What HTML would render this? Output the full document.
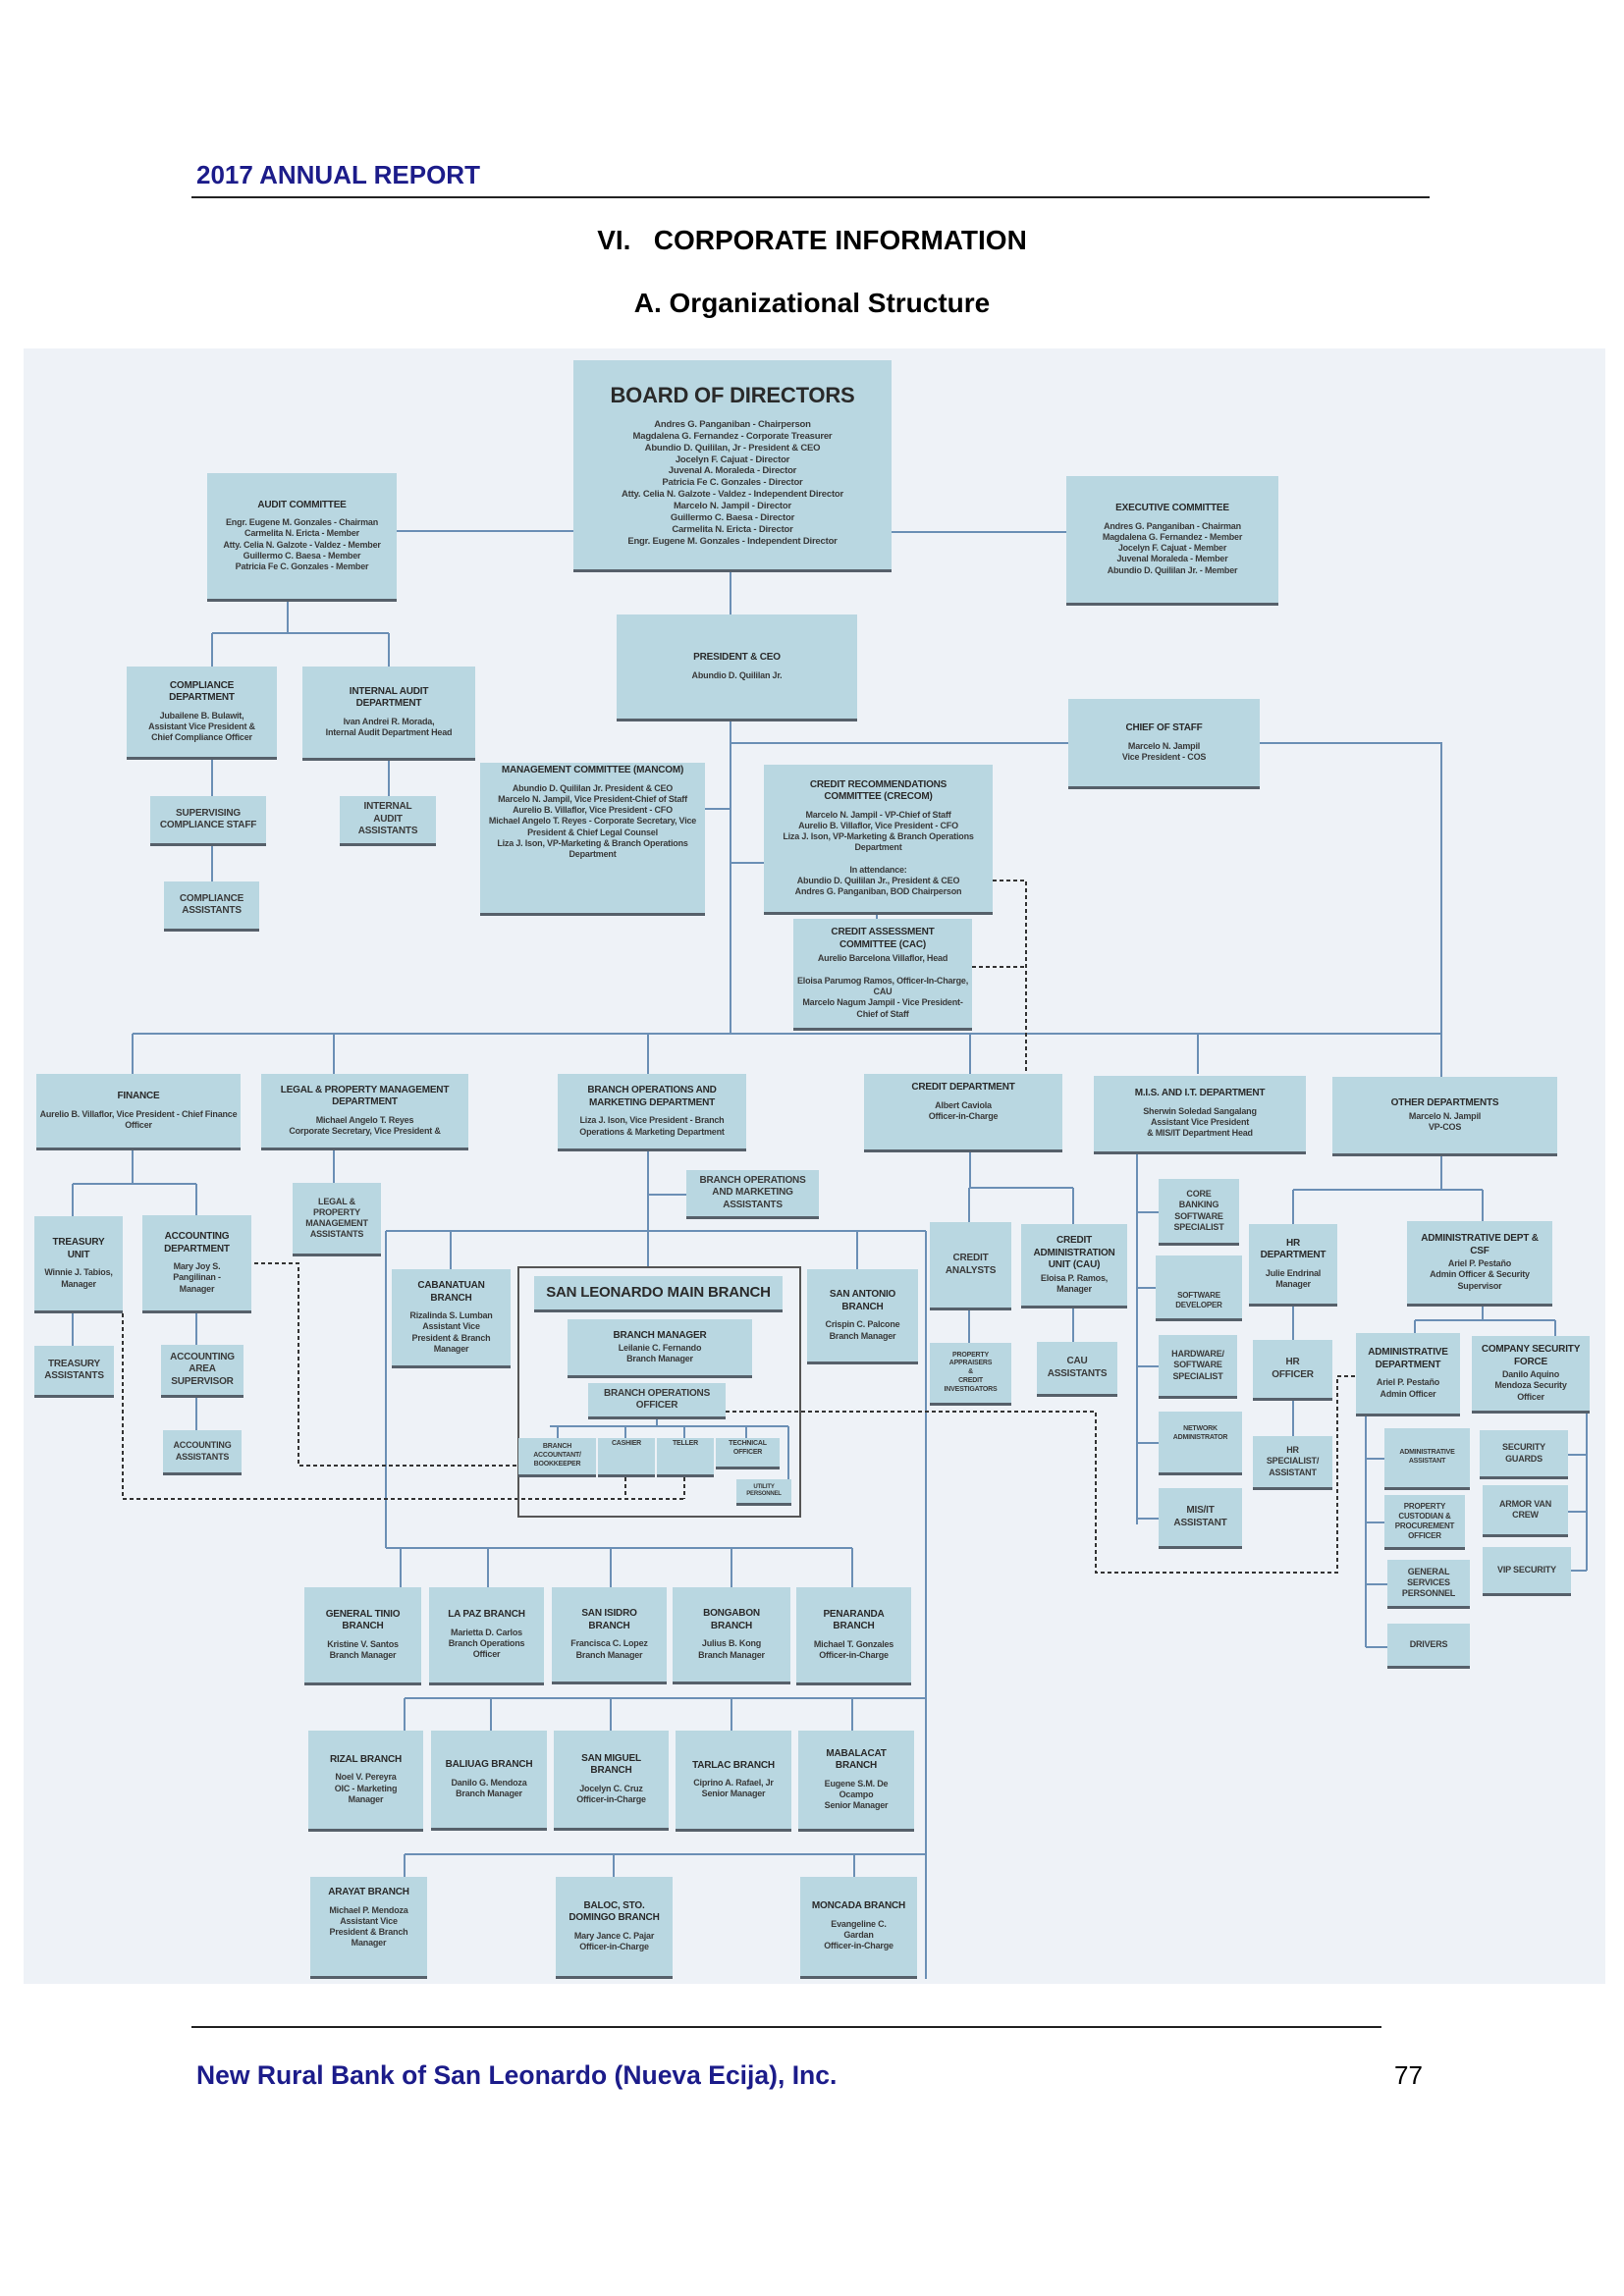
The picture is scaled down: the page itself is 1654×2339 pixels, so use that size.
<!DOCTYPE html>
<html><head><meta charset="utf-8"><style>
body{margin:0;background:#fff;}
#pg{position:relative;width:1654px;height:2339px;overflow:hidden;background:#fff;font-family:"Liberation Sans",sans-serif;}
.hd{position:absolute;font-weight:bold;font-size:24px;}
#dg{position:absolute;left:24px;top:355px;width:1611px;height:1666px;background:#eef2f7;}
svg{position:absolute;left:0;top:0;}
.b{position:absolute;background:#b9d7e1;border-bottom:3px solid #56606a;display:flex;flex-direction:column;justify-content:center;align-items:center;text-align:center;font-family:"Liberation Sans Narrow","Liberation Sans",sans-serif;font-weight:bold;font-size:9px;color:#3a3a3a;line-height:1.25;box-sizing:border-box;padding:2px 3px;letter-spacing:-0.2px;}
.b .t{font-size:10px;color:#2a2a2a;margin-bottom:6px;}
.b .n{font-weight:normal;}
</style></head><body><div id="pg">
<div class="hd" style="left:200px;top:163px;color:#1c1c8a;font-size:26px;">2017 ANNUAL REPORT</div>
<div style="position:absolute;left:195px;top:200px;width:1261px;height:2px;background:#222;"></div>
<div class="hd" style="left:0;width:1654px;text-align:center;top:229px;font-size:28px;">VI.&nbsp;&nbsp;&nbsp;CORPORATE INFORMATION</div>
<div class="hd" style="left:0;width:1654px;text-align:center;top:293px;font-size:28px;">A. Organizational Structure</div>
<div id="dg"></div>
<svg width="1654" height="2339">
<g stroke="#6b8fb5" stroke-width="2" fill="none">
<path d="M404 541H584M908 542H1086M744 583V626M293 613V645M216 645H396M216 645V679M396 645V679M216 774V811M216 862V898M396 775V811"/>
<path d="M744 735V1053M744 757H1088M1283 757H1468V1097M718 824H744M744 879H778M893 932V936"/>
<path d="M135 1053H1468M135 1053V1094M340 1053V1094M660 1053V1094M988 1053V1094M1220 1053V1094"/>
<path d="M135 1172V1206M74 1206H200M74 1206V1239M200 1206V1238M74 1338V1371M200 1338V1370M200 1424V1457M340 1172V1205"/>
<path d="M660 1172V1291M660 1217H699M393 1254H943M459 1254V1293M873 1254V1293M393 1254V1577M943 1254V2016"/>
<path d="M669 1446V1453M560 1453H803M568 1453V1465M637 1453V1465M697 1453V1465M760 1453V1465M803 1453V1507"/>
<path d="M393 1577H868M408 1577V1617M497 1577V1617M622 1577V1617M745 1577V1617M868 1577V1617"/>
<path d="M412 1730H943M412 1730V1763M500 1730V1763M622 1730V1763M745 1730V1763M868 1730V1763"/>
<path d="M412 1889H943M412 1889V1912M625 1889V1912M870 1889V1912"/>
<path d="M988 1172V1210M987 1210H1093M987 1210V1245M1093 1210V1247M987 1335V1368M1093 1333V1367"/>
<path d="M1158 1172V1553M1158 1235H1180M1158 1312H1177M1158 1392H1180M1158 1470H1180M1158 1547H1180"/>
<path d="M1468 1178V1212M1317 1212H1510M1317 1212V1247M1510 1212V1244M1317 1331V1365M1317 1427V1463"/>
<path d="M1510 1331V1345M1441 1345H1584M1441 1345V1358M1584 1345V1361M1391 1443V1678M1391 1486H1410M1391 1551H1410M1391 1614H1413M1391 1678H1413M1616 1440V1600M1597 1482H1616M1597 1540H1616M1600 1600H1616"/>
</g>
<g stroke="#333" stroke-width="2" fill="none" stroke-dasharray="4 3">
<path d="M1011 897H1045V1094M990 985H1045"/>
<path d="M259 1287H304V1493H528"/>
<path d="M125 1338V1527H697M637 1505V1527M697 1505V1527"/>
<path d="M739 1438H1116V1602H1362V1402H1381"/>
</g>
<rect x="528" y="1291" width="287" height="254" fill="none" stroke="#555" stroke-width="2"/>
</svg>

<div class="b" style="left:584px;top:367px;width:324px;height:216px;font-size:9.5px;"><div class="t" style="font-size:22px;margin-bottom:10px;">BOARD OF DIRECTORS</div>Andres G. Panganiban - Chairperson<br>Magdalena G. Fernandez - Corporate Treasurer<br>Abundio D. Quililan, Jr - President &amp; CEO<br>Jocelyn F. Cajuat - Director<br>Juvenal A. Moraleda - Director<br>Patricia Fe C. Gonzales - Director<br>Atty. Celia N. Galzote - Valdez - Independent Director<br>Marcelo N. Jampil - Director<br>Guillermo C. Baesa - Director<br>Carmelita N. Ericta - Director<br>Engr. Eugene M. Gonzales - Independent Director</div>
<div class="b" style="left:211px;top:482px;width:193px;height:131px;"><div class="t">AUDIT COMMITTEE</div>Engr. Eugene M. Gonzales - Chairman<br>Carmelita N. Ericta - Member<br>Atty. Celia N. Galzote - Valdez - Member<br>Guillermo C. Baesa - Member<br>Patricia Fe C. Gonzales - Member</div>
<div class="b" style="left:1086px;top:485px;width:216px;height:132px;"><div class="t">EXECUTIVE COMMITTEE</div>Andres G. Panganiban - Chairman<br>Magdalena G. Fernandez - Member<br>Jocelyn F. Cajuat - Member<br>Juvenal Moraleda - Member<br>Abundio D. Quililan Jr. - Member</div>
<div class="b" style="left:628px;top:626px;width:245px;height:109px;"><div class="t">PRESIDENT &amp; CEO</div>Abundio D. Quililan Jr.</div>
<div class="b" style="left:129px;top:679px;width:153px;height:95px;"><div class="t">COMPLIANCE<br>DEPARTMENT</div>Jubailene B. Bulawit,<br>Assistant Vice President &amp;<br>Chief Compliance Officer</div>
<div class="b" style="left:308px;top:679px;width:176px;height:96px;"><div class="t">INTERNAL AUDIT<br>DEPARTMENT</div>Ivan Andrei R. Morada,<br>Internal Audit Department Head</div>
<div class="b" style="left:1088px;top:712px;width:195px;height:92px;"><div class="t">CHIEF OF STAFF</div>Marcelo N. Jampil<br>Vice President - COS</div>
<div class="b" style="left:489px;top:777px;width:229px;height:156px;justify-content:flex-start;"><div class="t">MANAGEMENT COMMITTEE (MANCOM)</div>Abundio D. Quililan Jr. President &amp; CEO<br>Marcelo N. Jampil, Vice President-Chief of Staff<br>Aurelio B. Villaflor, Vice President - CFO<br>Michael Angelo T. Reyes - Corporate Secretary, Vice President &amp; Chief Legal Counsel<br>Liza J. Ison, VP-Marketing &amp; Branch Operations Department</div>
<div class="b" style="left:778px;top:779px;width:233px;height:153px;"><div class="t">CREDIT RECOMMENDATIONS<br>COMMITTEE (CRECOM)</div>Marcelo N. Jampil - VP-Chief of Staff<br>Aurelio B. Villaflor, Vice President - CFO<br>Liza J. Ison, VP-Marketing &amp; Branch Operations Department<br><br>In attendance:<br>Abundio D. Quililan Jr., President &amp; CEO<br>Andres G. Panganiban, BOD Chairperson</div>
<div class="b" style="left:153px;top:811px;width:118px;height:51px;font-size:10px;">SUPERVISING<br>COMPLIANCE STAFF</div>
<div class="b" style="left:346px;top:811px;width:98px;height:51px;font-size:10px;">INTERNAL<br>AUDIT<br>ASSISTANTS</div>
<div class="b" style="left:167px;top:898px;width:97px;height:51px;font-size:10px;">COMPLIANCE<br>ASSISTANTS</div>
<div class="b" style="left:808px;top:936px;width:182px;height:114px;"><div class="t" style="margin-bottom:2px;">CREDIT ASSESSMENT<br>COMMITTEE (CAC)</div>Aurelio Barcelona Villaflor, Head<br><br>Eloisa Parumog Ramos, Officer-In-Charge, CAU<br>Marcelo Nagum Jampil - Vice President-Chief of Staff</div>

<div class="b" style="left:37px;top:1094px;width:208px;height:78px;"><div class="t">FINANCE</div>Aurelio B. Villaflor, Vice President - Chief Finance Officer</div>
<div class="b" style="left:266px;top:1094px;width:211px;height:78px;"><div class="t">LEGAL &amp; PROPERTY MANAGEMENT<br>DEPARTMENT</div>Michael Angelo T. Reyes<br>Corporate Secretary, Vice President &amp;</div>
<div class="b" style="left:568px;top:1094px;width:192px;height:79px;"><div class="t">BRANCH OPERATIONS AND<br>MARKETING DEPARTMENT</div>Liza J. Ison, Vice President - Branch Operations &amp; Marketing Department</div>
<div class="b" style="left:880px;top:1094px;width:202px;height:80px;justify-content:flex-start;padding-top:8px;"><div class="t">CREDIT DEPARTMENT</div>Albert Caviola<br>Officer-in-Charge</div>
<div class="b" style="left:1114px;top:1096px;width:216px;height:80px;"><div class="t">M.I.S. AND I.T. DEPARTMENT</div>Sherwin Soledad Sangalang<br>Assistant Vice President<br>&amp; MIS/IT Department Head</div>
<div class="b" style="left:1357px;top:1097px;width:229px;height:81px;"><div class="t" style="margin-bottom:2px;">OTHER DEPARTMENTS</div>Marcelo N. Jampil<br>VP-COS</div>

<div class="b" style="left:35px;top:1239px;width:90px;height:99px;"><div class="t">TREASURY<br>UNIT</div>Winnie J. Tabios,<br>Manager</div>
<div class="b" style="left:145px;top:1238px;width:111px;height:100px;"><div class="t">ACCOUNTING<br>DEPARTMENT</div>Mary Joy S.<br>Pangilinan -<br>Manager</div>
<div class="b" style="left:35px;top:1371px;width:81px;height:53px;font-size:10px;">TREASURY<br>ASSISTANTS</div>
<div class="b" style="left:164px;top:1370px;width:84px;height:54px;font-size:10px;">ACCOUNTING<br>AREA<br>SUPERVISOR</div>
<div class="b" style="left:166px;top:1457px;width:80px;height:46px;">ACCOUNTING<br>ASSISTANTS</div>
<div class="b" style="left:298px;top:1205px;width:90px;height:75px;">LEGAL &amp;<br>PROPERTY<br>MANAGEMENT<br>ASSISTANTS</div>
<div class="b" style="left:699px;top:1192px;width:135px;height:50px;font-size:10px;">BRANCH OPERATIONS<br>AND MARKETING<br>ASSISTANTS</div>
<div class="b" style="left:399px;top:1293px;width:121px;height:101px;"><div class="t">CABANATUAN<br>BRANCH</div>Rizalinda S. Lumban<br>Assistant Vice<br>President &amp; Branch<br>Manager</div>
<div class="b" style="left:544px;top:1300px;width:253px;height:37px;font-size:15px;color:#2a2a2a;">SAN LEONARDO MAIN BRANCH</div>
<div class="b" style="left:578px;top:1344px;width:188px;height:60px;"><div class="t" style="margin-bottom:1px;">BRANCH MANAGER</div>Leilanie C. Fernando<br>Branch Manager</div>
<div class="b" style="left:599px;top:1409px;width:140px;height:37px;font-size:10px;">BRANCH OPERATIONS<br>OFFICER</div>
<div class="b" style="left:528px;top:1465px;width:79px;height:40px;font-size:7px;">BRANCH<br>ACCOUNTANT/<br>BOOKKEEPER</div>
<div class="b" style="left:609px;top:1465px;width:58px;height:40px;font-size:7px;justify-content:flex-start;">CASHIER</div>
<div class="b" style="left:669px;top:1465px;width:58px;height:40px;font-size:7px;justify-content:flex-start;">TELLER</div>
<div class="b" style="left:729px;top:1465px;width:65px;height:32px;font-size:7px;justify-content:flex-start;">TECHNICAL<br>OFFICER</div>
<div class="b" style="left:750px;top:1507px;width:56px;height:27px;font-size:6px;">UTILITY<br>PERSONNEL</div>
<div class="b" style="left:822px;top:1293px;width:113px;height:97px;"><div class="t">SAN ANTONIO<br>BRANCH</div>Crispin C. Palcone<br>Branch Manager</div>
<div class="b" style="left:947px;top:1245px;width:83px;height:90px;font-size:10px;">CREDIT<br>ANALYSTS</div>
<div class="b" style="left:1040px;top:1247px;width:108px;height:86px;"><div class="t" style="margin-bottom:1px;">CREDIT<br>ADMINISTRATION<br>UNIT (CAU)</div>Eloisa P. Ramos,<br>Manager</div>
<div class="b" style="left:947px;top:1368px;width:83px;height:64px;font-size:7px;">PROPERTY<br>APPRAISERS<br>&amp;<br>CREDIT<br>INVESTIGATORS</div>
<div class="b" style="left:1056px;top:1367px;width:82px;height:56px;font-size:10px;">CAU<br>ASSISTANTS</div>
<div class="b" style="left:1180px;top:1201px;width:82px;height:68px;">CORE<br>BANKING<br>SOFTWARE<br>SPECIALIST</div>
<div class="b" style="left:1177px;top:1279px;width:88px;height:67px;font-size:8px;justify-content:flex-end;padding-bottom:8px;">SOFTWARE<br>DEVELOPER</div>
<div class="b" style="left:1180px;top:1360px;width:80px;height:65px;">HARDWARE/<br>SOFTWARE<br>SPECIALIST</div>
<div class="b" style="left:1180px;top:1438px;width:85px;height:65px;font-size:7px;justify-content:flex-start;padding-top:14px;">NETWORK<br>ADMINISTRATOR</div>
<div class="b" style="left:1180px;top:1516px;width:85px;height:62px;font-size:10px;">MIS/IT<br>ASSISTANT</div>
<div class="b" style="left:1272px;top:1247px;width:90px;height:84px;"><div class="t">HR<br>DEPARTMENT</div>Julie Endrinal<br>Manager</div>
<div class="b" style="left:1276px;top:1365px;width:81px;height:62px;font-size:10px;">HR<br>OFFICER</div>
<div class="b" style="left:1276px;top:1463px;width:81px;height:55px;">HR<br>SPECIALIST/<br>ASSISTANT</div>
<div class="b" style="left:1433px;top:1244px;width:148px;height:87px;"><div class="t" style="margin-bottom:1px;">ADMINISTRATIVE DEPT &amp;<br>CSF</div>Ariel P. Pestaño<br>Admin Officer &amp; Security<br>Supervisor</div>
<div class="b" style="left:1381px;top:1358px;width:106px;height:85px;"><div class="t">ADMINISTRATIVE<br>DEPARTMENT</div>Ariel P. Pestaño<br>Admin Officer</div>
<div class="b" style="left:1499px;top:1361px;width:120px;height:79px;"><div class="t" style="margin-bottom:1px;">COMPANY SECURITY<br>FORCE</div>Danilo Aquino<br>Mendoza Security<br>Officer</div>
<div class="b" style="left:1410px;top:1455px;width:87px;height:63px;font-size:7px;">ADMINISTRATIVE<br>ASSISTANT</div>
<div class="b" style="left:1507px;top:1457px;width:90px;height:50px;">SECURITY<br>GUARDS</div>
<div class="b" style="left:1410px;top:1523px;width:82px;height:56px;font-size:8px;">PROPERTY<br>CUSTODIAN &amp;<br>PROCUREMENT<br>OFFICER</div>
<div class="b" style="left:1510px;top:1513px;width:87px;height:53px;">ARMOR VAN<br>CREW</div>
<div class="b" style="left:1413px;top:1589px;width:84px;height:50px;">GENERAL<br>SERVICES<br>PERSONNEL</div>
<div class="b" style="left:1510px;top:1576px;width:90px;height:50px;">VIP SECURITY</div>
<div class="b" style="left:1413px;top:1654px;width:84px;height:46px;">DRIVERS</div>

<div class="b" style="left:310px;top:1617px;width:119px;height:100px;"><div class="t">GENERAL TINIO<br>BRANCH</div>Kristine V. Santos<br>Branch Manager</div>
<div class="b" style="left:437px;top:1617px;width:117px;height:100px;"><div class="t">LA PAZ BRANCH</div>Marietta D. Carlos<br>Branch Operations<br>Officer</div>
<div class="b" style="left:562px;top:1617px;width:117px;height:99px;"><div class="t">SAN ISIDRO<br>BRANCH</div>Francisca C. Lopez<br>Branch Manager</div>
<div class="b" style="left:685px;top:1617px;width:120px;height:99px;"><div class="t">BONGABON<br>BRANCH</div>Julius B. Kong<br>Branch Manager</div>
<div class="b" style="left:811px;top:1617px;width:117px;height:100px;"><div class="t">PENARANDA<br>BRANCH</div>Michael T. Gonzales<br>Officer-in-Charge</div>
<div class="b" style="left:314px;top:1763px;width:117px;height:103px;"><div class="t">RIZAL BRANCH</div>Noel V. Pereyra<br>OIC - Marketing<br>Manager</div>
<div class="b" style="left:439px;top:1763px;width:118px;height:102px;"><div class="t">BALIUAG BRANCH</div>Danilo G. Mendoza<br>Branch Manager</div>
<div class="b" style="left:564px;top:1763px;width:117px;height:102px;"><div class="t">SAN MIGUEL<br>BRANCH</div>Jocelyn C. Cruz<br>Officer-in-Charge</div>
<div class="b" style="left:688px;top:1763px;width:118px;height:103px;"><div class="t">TARLAC BRANCH</div>Ciprino A. Rafael, Jr<br>Senior Manager</div>
<div class="b" style="left:813px;top:1763px;width:118px;height:103px;"><div class="t">MABALACAT<br>BRANCH</div>Eugene S.M. De<br>Ocampo<br>Senior Manager</div>
<div class="b" style="left:316px;top:1912px;width:119px;height:104px;justify-content:flex-start;padding-top:10px;"><div class="t">ARAYAT BRANCH</div>Michael P. Mendoza<br>Assistant Vice<br>President &amp; Branch<br>Manager</div>
<div class="b" style="left:566px;top:1912px;width:119px;height:104px;"><div class="t">BALOC, STO.<br>DOMINGO BRANCH</div>Mary Jance C. Pajar<br>Officer-in-Charge</div>
<div class="b" style="left:815px;top:1912px;width:119px;height:104px;"><div class="t">MONCADA BRANCH</div>Evangeline C.<br>Gardan<br>Officer-in-Charge</div>

<div style="position:absolute;left:195px;top:2064px;width:1212px;height:2px;background:#222;"></div>
<div class="hd" style="left:200px;top:2099px;color:#1c1c8a;font-size:26.5px;">New Rural Bank of San Leonardo (Nueva Ecija), Inc.</div>
<div style="position:absolute;left:1420px;top:2099px;font-size:26px;">77</div>
</div></body></html>
